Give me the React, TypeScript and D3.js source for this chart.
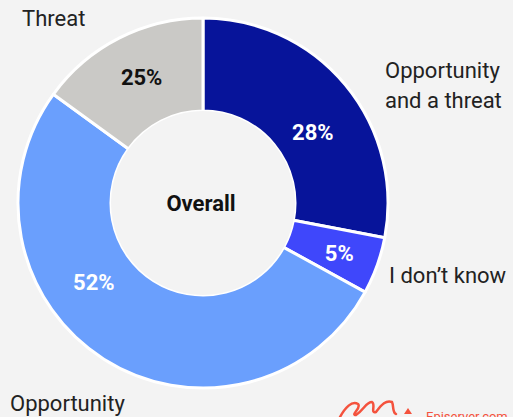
import React from "react";
import * as d3 from "d3";

const categories = ["Opportunity and a threat", "I don't know", "Opportunity", "Threat"];
const values = [28, 5, 52, 15];
const valueLabels = ["28%", "5%", "52%", "25%"];
const colors = ["#07149a", "#3f47fb", "#6a9ffd", "#cac9c6"];
const labelColors = ["#ffffff", "#ffffff", "#ffffff", "#111111"];
// label placement (degrees clockwise from top, radius) as in the original layout
const labelAngles = [57, 110, 234, 334];
const labelRadii = [131, 145, 135, 140];

const W = 513;
const H = 417;
const cx = 203;
const cy = 203;
const outerR = 185;
const innerR = 92;

const App: React.FC = () => {
  const pie = d3.pie<number>().sort(null).value(d => d);
  const arcs = pie(values);
  const arc = d3.arc<d3.PieArcDatum<number>>().innerRadius(innerR).outerRadius(outerR);

  return (
    <svg width={W} height={H} style={{ position: "absolute", left: 0, top: 0, background: "#f3f3f3" }}
      fontFamily="Roboto, 'DejaVu Sans', sans-serif">
      <rect width={W} height={H} fill="#f3f3f3" />
      <g transform={`translate(${cx},${cy})`}>
        {arcs.map((a, i) => (
          <path key={categories[i]} d={arc(a) || ""} fill={colors[i]} stroke="#ffffff" strokeWidth={3} strokeLinejoin="round" />
        ))}
        <circle r={innerR} fill="#f3f3f3" />
        {arcs.map((a, i) => {
          const ang = (labelAngles[i] * Math.PI) / 180;
          const x = Math.sin(ang) * labelRadii[i];
          const y = -Math.cos(ang) * labelRadii[i];
          return (
            <text key={valueLabels[i]} x={x} y={y} dy="0.36em" textAnchor="middle" fontSize={22} fontWeight="bold" fill={labelColors[i]}>
              {valueLabels[i]}
            </text>
          );
        })}
        <text x={-2} y={0} dy="0.36em" textAnchor="middle" fontSize={22} fontWeight="bold" fill="#111">Overall</text>
      </g>
      <g fontSize={22} fill="#222">
        <text x={22} y={26}>Threat</text>
        <text x={385} y={78}>Opportunity</text>
        <text x={385} y={108}>and a threat</text>
        <text x={389} y={283}>I don’t know</text>
        <text x={10} y={411}>Opportunity</text>
      </g>
      <g>
        <path d="M340,417 C345,408 352,400 358,404 C362,408 350,415 356,415 C364,410 366,402 372,402 C376,404 370,414 376,412 C382,404 386,400 392,402 C394,406 392,412 396,414"
          fill="none" stroke="#f4523d" strokeWidth={2.5} strokeLinecap="round" />
        <path d="M404,414 L408,408 L412,414 Z" fill="#f4523d" />
        <text x={426} y={421} fontSize={13} fill="#f4523d">Episerver.com</text>
      </g>
    </svg>
  );
};

export default App;
